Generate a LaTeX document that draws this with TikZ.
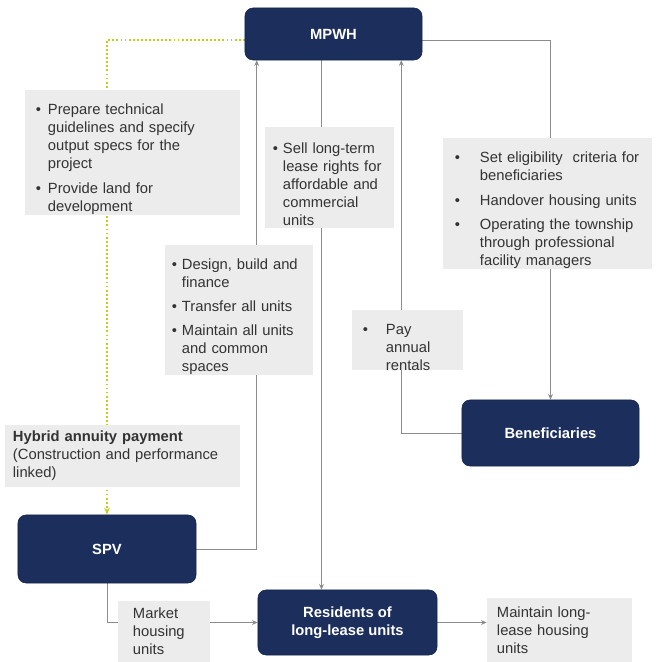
\documentclass[tikz,border=0pt]{standalone}
\usepackage{fontspec}
\setmainfont{Liberation Sans}
\usetikzlibrary{arrows.meta,backgrounds}

\definecolor{navy}{RGB}{27,46,92}
\definecolor{notegray}{RGB}{236,236,236}
\definecolor{linegray}{RGB}{140,140,140}
\definecolor{paygreen}{RGB}{196,206,20}

\newcommand{\bitem}[2]{\par\hangindent=#1\hangafter=1\noindent\makebox[#1][l]{\textbullet}#2}

\tikzset{
  navybox/.style={draw=navy!80!black, fill=navy, rounded corners=0.2cm, text=white,
    font=\bfseries\fontsize{10.5}{12.5}\selectfont, align=center},
  notebox/.style={fill=notegray, text=black!80, font=\fontsize{10.5}{12.8}\selectfont,
    align=left, inner ysep=0pt, execute at begin node={\setlength{\parskip}{4.5pt}}},
  flow/.style={draw=linegray, line width=0.6pt, -{Stealth[length=4pt,width=3.5pt]}},
  payline/.style={draw=paygreen, line width=1.3pt, dash pattern=on 1.3pt off 1.6pt,
    -{Stealth[length=5pt,width=4pt]}}
}

\begin{document}
\begin{tikzpicture}[x=0.025cm, y=-0.025cm]
  \useasboundingbox (0,0) rectangle (667,662);

  \node[navybox, minimum width=4.425cm, minimum height=1.3cm] (mpwh) at (333.5,34) {MPWH};
  \node[navybox, minimum width=4.45cm, minimum height=1.7cm] (spv) at (107,549) {SPV};
  \node[navybox, minimum width=4.425cm, minimum height=1.65cm] (ben) at (550.5,433) {Beneficiaries};
  \node[navybox, minimum width=4.475cm, minimum height=1.625cm] (res) at (347.5,622.5)
    {Residents of\\long-lease units};

  \node[notebox, inner xsep=0.275cm, text width=4.825cm, minimum height=3.125cm] (prep) at (132.5,152.5)
    {\bitem{0.3cm}{Prepare technical\newline guidelines and specify\newline output specs for the\newline project}%
     \bitem{0.3cm}{Provide land for\newline development}\par};
  \node[notebox, inner xsep=0.2cm, text width=2.825cm, minimum height=2.5cm] (sell) at (329.5,177.5)
    {\bitem{0.25cm}{Sell long-term\newline lease rights for\newline affordable and\newline commercial\newline units}\par};
  \node[notebox, inner xsep=0.3cm, text width=4.625cm, minimum height=3.175cm] (elig) at (547.5,203.5)
    {\bitem{0.625cm}{Set eligibility\ \ criteria for\newline beneficiaries}%
     \bitem{0.625cm}{Handover housing units}%
     \bitem{0.625cm}{Operating the township\newline through professional\newline facility managers}\par};
  \node[notebox, inner xsep=0.175cm, text width=3.35cm, minimum height=3.125cm] (dbf) at (239,310)
    {\bitem{0.25cm}{Design, build and\newline finance}%
     \bitem{0.25cm}{Transfer all units}%
     \bitem{0.25cm}{Maintain all units\newline and common\newline spaces}\par};
  \node[notebox, inner xsep=0.275cm, text width=2.225cm, minimum height=1.5cm] (pay) at (407.5,340)
    {\bitem{0.575cm}{Pay\newline annual\newline rentals}\par};
  \node[notebox, inner xsep=0.2cm, text width=5.475cm, minimum height=1.55cm] (hyb) at (122.5,456)
    {\textbf{Hybrid annuity payment}\newline(Construction and performance\newline linked)};
  \node[notebox, inner xsep=0.375cm, text width=1.55cm, minimum height=1.5cm] (mkt) at (164,631.5)
    {Market\newline housing\newline units};
  \node[notebox, inner xsep=0.25cm, text width=3.125cm, minimum height=1.6cm] (maint) at (559.5,630)
    {Maintain long-\newline lease housing\newline units};

  \begin{pgfonlayer}{background}
    \draw[payline] ([yshift=-0.15cm]mpwh.west) -| (spv.north);
    \draw[flow] (spv.east) -| ([xshift=0.3cm]mpwh.south west);
    \draw[flow] ([xshift=-0.3cm]mpwh.south) -- ([xshift=-0.3cm]mpwh.south |- res.north);
    \draw[flow] (ben.west) -| ([xshift=-0.525cm]mpwh.south east);
    \draw[flow] ([yshift=-0.15cm]mpwh.east) -| (ben.north);
    \draw[flow] (spv.south) |- (res.west);
    \draw[flow] (res.east) -- (res.east -| maint.west);
  \end{pgfonlayer}
\end{tikzpicture}
\end{document}
